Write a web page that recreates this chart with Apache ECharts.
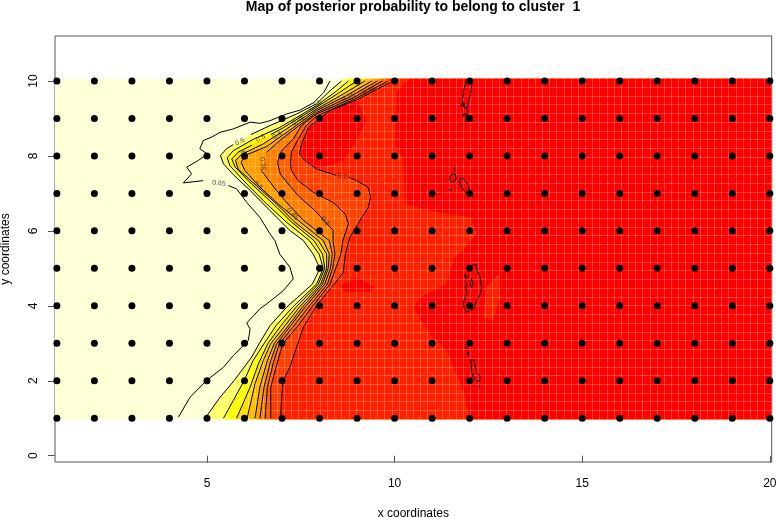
<!DOCTYPE html>
<html><head><meta charset="utf-8">
<style>html,body{margin:0;padding:0;background:#fff}#c{width:776px;height:518px}</style>
<script src="https://cdn.jsdelivr.net/npm/echarts@6/dist/echarts.min.js"></script>
</head><body><div id="c"></div>
<script>
const gridX = [1,2,3,4,5,6,7,8,9,10,11,12,13,14,15,16,17,18,19,20];
const gridY = [1,2,3,4,5,6,7,8,9,10];
const xTicks = [5,10,15,20];
const yTicks = [0,2,4,6,8,10];

const c65 = [[8.28,10],[8.11,9.69],[7.84,9.42],[7.48,9.22],[7.12,9.12],[6.68,8.94],[6.41,8.87],[6.15,8.90],[5.70,8.72],[5.35,8.63],[5.12,8.50],[4.90,8.41],[4.81,8.19],[5.01,8.05],[4.77,7.88],[4.46,7.70],[4.59,7.52],[4.37,7.28],[4.90,7.34],[null,null],[5.57,7.21],[5.79,7.12],[6.06,6.76],[6.41,6.36],[6.68,5.92],[6.81,5.74],[6.94,5.38],[7.21,5.03],[7.30,4.72],[7.03,4.40],[6.59,4.05],[6.41,3.92],[6.06,3.54],[6.15,3.38],[6.10,3.07],[5.70,2.67],[5.44,2.36],[4.99,2.01],[4.55,1.56],[4.24,1.03]];
const c60 = [[8.59,10],[8.28,9.74],[7.92,9.39],[7.39,9.12],[6.68,8.81],[6.17,8.57],[null,null],[5.70,8.30],[5.52,8.19],[5.36,8.01],[5.44,7.79],[5.70,7.50],[6.15,7.08],[6.68,6.54],[7.21,6.01],[7.57,5.74],[7.83,5.38],[8.01,5.0],[7.81,4.58],[7.12,3.96],[6.68,3.47],[6.39,2.99],[6.19,2.63],[5.72,2.0],[5.35,1.56],[4.95,1.0]];
const c55 = [[8.77,10],[8.45,9.73],[7.92,9.34],[6.94,8.76],[6.23,8.44],[5.70,8.14],[5.54,7.95],[5.61,7.74],[6.06,7.25],[6.59,6.72],[7.12,6.23],[7.73,5.74],[7.99,5.38],[8.10,5.0],[7.92,4.58],[7.28,3.96],[6.84,3.47],[6.52,2.99],[6.23,2.54],[5.99,2.0],[5.70,1.47],[5.44,1.0]];
const c50 = [[8.99,10],[8.54,9.70],[7.92,9.30],[7.03,8.75],[6.70,8.57],[null,null],[6.20,8.29],[5.83,8.10],[5.66,7.92],[5.75,7.70],[6.19,7.25],[6.72,6.76],[7.26,6.23],[7.85,5.74],[8.08,5.38],[8.14,5.0],[7.97,4.58],[7.37,3.96],[6.97,3.47],[6.62,2.99],[6.37,2.45],[6.15,1.83],[5.79,1.0]];
const c45 = [[9.21,10],[8.63,9.65],[7.92,9.25],[7.12,8.72],[6.50,8.32],[5.92,8.04],[5.76,7.88],[5.83,7.65],[6.31,7.21],[6.85,6.72],[7.34,6.23],[7.97,5.74],[8.19,5.38],[8.19,5.0],[8.03,4.58],[7.46,3.96],[7.08,3.47],[6.70,2.99],[6.50,2.54],[6.28,1.92],[6.07,1.0]];
const c40 = [[9.39,10],[8.72,9.61],[7.92,9.21],[7.21,8.69],[6.59,8.25],[6.01,8.01],[5.91,7.83],[6.01,7.61],[6.41,7.17],[6.94,6.68],[7.43,6.28],[8.10,5.74],[8.26,5.38],[8.23,5.0],[8.08,4.58],[7.54,3.96],[7.17,3.47],[6.79,2.99],[6.61,2.54],[6.41,1.83],[6.28,1.0]];
const c35 = [[9.54,10],[8.81,9.58],[7.92,9.16],[7.39,8.76],[6.99,8.45],[6.59,8.10],[null,null],[6.45,7.61],[6.78,7.17],[7.12,6.76],[7.57,6.28],[8.26,5.74],[8.34,5.38],[8.29,5.0],[8.14,4.58],[7.61,3.96],[7.23,3.47],[6.86,2.99],[6.70,2.54],[6.52,1.83],[6.41,1.0]];
const c30 = [[9.67,10],[8.90,9.55],[7.92,9.12],[7.52,8.81],[7.30,8.45],[6.99,8.14],[6.88,7.83],[6.95,7.52],[7.17,7.25],[7.43,6.94],[7.92,6.50],[8.36,6.01],[8.36,5.74],[8.41,5.38],[8.35,5.0],[8.21,4.58],[7.70,3.96],[7.32,3.47],[6.93,2.99],[6.77,2.49],[6.61,1.83],[6.55,1.0]];
const c25 = [[9.79,9.98],[8.94,9.52],[7.92,9.06],[7.65,8.81],[7.43,8.45],[7.25,8.10],[7.23,7.79],[7.25,7.61],[7.43,7.34],[7.83,7.03],[8.36,6.76],[8.68,6.45],[8.77,6.19],[8.62,5.74],[8.57,5.38],[8.43,5.0],[8.28,4.58],[7.79,3.96],[7.43,3.47],[7.02,2.99],[6.86,2.43],[6.70,1.83],[6.70,1.0]];
const c20 = [[9.88,9.96],[9.0,9.50],[8.28,9.21],[7.97,8.97],[7.71,8.77],[7.54,8.37],[7.46,8.05],[7.61,7.88],[7.92,7.65],[8.45,7.48],[null,null],[8.77,7.43],[8.99,7.34],[9.30,7.16],[9.36,6.90],[9.30,6.63],[9.08,6.28],[8.81,5.83],[8.69,5.38],[8.63,4.89],[8.36,4.54],[7.92,4.01],[7.57,3.43],[7.39,2.90],[7.21,2.36],[7.03,2.01],[6.99,1.56],[6.96,1.0]];
const islands = [[11.90,9.96],[12.06,10.0],[12.04,9.74],[11.97,9.43],[11.93,9.28],[11.86,9.28],[11.81,9.48],[11.84,9.74],[11.90,9.96],[null,null],
 [11.96,9.25],[11.89,8.90],[null,null],
 [11.77,9.39],[11.86,9.39],[11.86,9.33],[11.77,9.33],[11.77,9.39],[null,null],
 [11.82,9.12],[11.90,9.12],[11.90,9.06],[11.82,9.06],[11.82,9.12],[null,null],
 [11.80,8.85],[11.80,8.82],[null,null],
 [11.60,7.72],[11.60,7.54],[null,null],
 [11.53,7.52],[11.62,7.50],[11.64,7.39],[11.57,7.28],[11.48,7.34],[11.48,7.45],[11.53,7.52],[null,null],
 [11.75,7.41],[11.84,7.39],[11.97,7.21],[11.99,7.08],[11.97,6.94],[11.88,7.03],[11.80,7.16],[11.73,7.30],[11.75,7.41],[null,null],
 [11.46,7.10],[11.53,7.10],[11.50,7.07],[11.46,7.10],[null,null],
 [12.09,6.93],[12.09,6.90],[null,null],
 [12.08,5.10],[12.17,5.10],[12.20,4.94],[12.28,4.76],[12.32,4.49],[12.28,4.32],[12.19,4.14],[12.10,3.92],[11.92,3.83],[11.86,3.92],[11.83,4.09],[11.92,4.32],[11.90,4.58],[11.89,4.72],[null,null],
 [12.05,4.72],[12.10,4.58],[12.05,4.48],[12.01,4.58],[12.05,4.72],[null,null],
 [11.86,4.83],[11.95,4.80],[11.95,4.74],[11.88,4.76],[11.86,4.83],[null,null],
 [11.88,2.91],[11.92,2.85],[11.90,2.81],[11.87,2.85],[11.88,2.91],[null,null],
 [11.95,2.78],[11.99,2.72],[11.96,2.66],[11.94,2.72],[11.95,2.78],[null,null],
 [12.03,2.57],[12.12,2.54],[12.17,2.27],[12.28,2.10],[12.26,1.98],[12.14,2.01],[12.05,2.23],[12.03,2.57],[null,null],
 [12.26,1.89],[12.26,1.81]];

// colour levels: each fills everything to the right of its contour
const bandContours = [c60,c55,c50,c45,c40,c35,c30,c25,c20];
const bandColors = ['#FFFF66','#FFFF00','#FFDF00','#FFBF00','#FF9F00','#FF8000','#FF6000','#FF4000','#FF2000'];
const paleColor = '#FFFFD5';
const coreColor = '#FF0000';
const lowColor = '#FF2000';

// patches of the lowest colour classes
const coreRight = [[10.41,10.06],[10.06,9.74],[10.01,8.23],[10.23,7.96],[10.28,6.72],[10.94,6.54],[11.39,6.45],[12.01,6.36],[12.19,5.92],[11.83,5.48],[11.61,5.30],[11.48,4.94],[11.39,4.59],[10.68,4.23],[10.50,3.96],[10.94,3.25],[11.39,2.81],[11.83,1.74],[12.01,0.97],[20.05,0.97],[20.05,10.06]];
const coreUpper = [[8.28,9.21],[9.0,9.50],[9.25,8.94],[8.99,8.4],[8.63,7.87],[7.92,7.66],[7.50,8.01],[7.66,8.72]];
const coreMiddle = [[8.64,4.59],[9.0,4.76],[9.48,4.5],[9.35,4.37],[8.72,4.37],[8.55,4.5]];
const lowPatch = [[12.45,4.5],[12.77,4.85],[12.81,4.23],[12.63,3.61],[12.37,3.7]];

const contourLabels = [
 [5.32,7.27,'0.65',-5],[5.88,8.38,'0.6',28],[6.43,8.47,'0.5',28],[6.87,8.54,'0.4',30],
 [7.43,8.94,'0.45',32],[7.89,9.34,'0.55',35],[8.77,9.56,'0.25',25],[9.32,9.74,'0.35',25],
 [5.99,8.01,'0.4',-80],[6.48,7.79,'0.35',-85],[6.37,7.21,'0.5',-45],[7.28,6.45,'0.45',-45],
 [8.14,6.26,'0.3',-50],[8.61,7.45,'0.2',-8]
];

const xMin=0.95,xMax=20.05,yMin=-0.168,yMax=11.2,fillBottom=0.97,fillTop=10.06;
const clean = a => a.filter(p => p[0] !== null);

const fills = [];
fills.push({pts:[[xMin,fillTop],[xMin,fillBottom],[xMax,fillBottom],[xMax,fillTop]],color:paleColor});
bandContours.forEach((c,i)=>{
  const k = clean(c);
  fills.push({pts:[[k[0][0],fillTop],...k,[k[k.length-1][0],fillBottom],[xMax,fillBottom],[xMax,fillTop]],color:bandColors[i]});
});
fills.push({pts:coreRight,color:coreColor});
fills.push({pts:coreUpper,color:coreColor});
fills.push({pts:coreMiddle,color:coreColor});
fills.push({pts:lowPatch,color:lowColor});

const points=[];
gridY.forEach(y=>gridX.forEach(x=>points.push([x,y])));

const contourSeries=[c65,c60,c55,c50,c45,c40,c35,c30,c25,c20,islands].map(d=>({
  type:'line',data:d,showSymbol:false,symbol:'none',connectNulls:false,silent:true,z:4,clip:false,
  lineStyle:{color:'#000',width:1},animation:false
}));

const font='"Liberation Sans", Arial, sans-serif';
const axisCol='#555';
const chart=echarts.init(document.getElementById('c'),null,{renderer:'canvas'});
chart.setOption({
  animation:false,backgroundColor:'#fff',
  title:{text:'Map of posterior probability to belong to cluster  1',left:408,top:-5,textAlign:'center',
    textStyle:{fontFamily:font,fontSize:14,fontWeight:'bold',color:'#000'}},
  grid:[{left:55,right:4.3,top:36,bottom:56,show:true,borderColor:axisCol,borderWidth:1,backgroundColor:'transparent',outerBoundsMode:'none',containLabel:false},
        {left:55,width:716.7,top:78.4,height:340.8,show:false,outerBoundsMode:'none',containLabel:false}],
  xAxis:[{type:'value',gridIndex:0,min:xMin,max:xMax,splitLine:{show:false},
      name:'x coordinates',nameLocation:'middle',nameGap:46,nameTextStyle:{fontFamily:font,fontSize:12,color:'#000'},
      axisLine:{show:false},
      axisTick:{show:true,length:7,customValues:xTicks,lineStyle:{color:axisCol}},
      axisLabel:{show:true,customValues:xTicks,margin:16,fontFamily:font,fontSize:12,color:'#000'}},
    {type:'value',gridIndex:1,min:0,max:100,interval:1,z:1.5,axisLine:{show:false},axisTick:{show:false},axisLabel:{show:false},
      splitLine:{show:true,lineStyle:{color:'rgba(255,255,255,0.22)',width:1}}}],
  yAxis:[{type:'value',gridIndex:0,min:yMin,max:yMax,splitLine:{show:false},
      name:'y coordinates',nameLocation:'middle',nameGap:43,nameRotate:90,nameTextStyle:{fontFamily:font,fontSize:12,color:'#000'},
      axisLine:{show:false},
      axisTick:{show:true,length:7,customValues:yTicks,lineStyle:{color:axisCol}},
      axisLabel:{show:true,customValues:yTicks,rotate:90,margin:15,fontFamily:font,fontSize:12,color:'#000'}},
    {type:'value',gridIndex:1,min:0,max:39,interval:1,z:1.5,axisLine:{show:false},axisTick:{show:false},axisLabel:{show:false},
      splitLine:{show:true,lineStyle:{color:'rgba(255,255,255,0.22)',width:1}}}],
  series:[
    {type:'custom',coordinateSystem:'cartesian2d',xAxisIndex:0,yAxisIndex:0,z:1,silent:true,clip:false,
      data:fills.map(f=>f.pts[0]),
      renderItem:(params,api)=>{
        const f=fills[params.dataIndex];
        return {type:'polygon',shape:{points:f.pts.map(p=>api.coord(p))},style:{fill:f.color,stroke:null}};
      }},
    ...contourSeries,
    {type:'scatter',data:contourLabels.map(l=>({value:[l[0],l[1]],
        label:{show:true,formatter:l[2],rotate:l[3],position:'inside',fontFamily:font,fontSize:7,color:'#222'}})),
      symbolSize:0,silent:true,z:5,clip:false},
    {type:'scatter',data:points,symbol:'circle',symbolSize:7,itemStyle:{color:'#000',opacity:1},silent:true,z:6,clip:false}
  ]
});
</script></body></html>
